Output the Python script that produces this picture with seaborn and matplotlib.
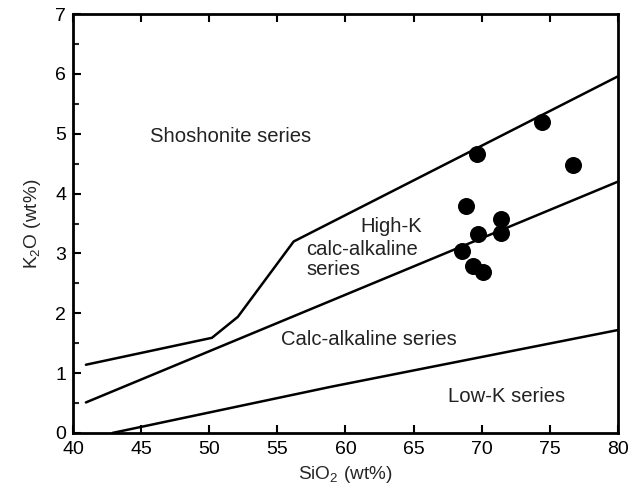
import matplotlib
matplotlib.use("Agg")
import matplotlib.pyplot as plt
from matplotlib.ticker import MultipleLocator
import seaborn as sns
import pandas as pd

# Boundary lines (SiO2, K2O)
shoshonite_x = [40.95, 50.2, 52.1, 56.2, 80.0]
shoshonite_y = [1.14, 1.59, 1.94, 3.20, 5.96]
highk_x = [40.95, 80.0]
highk_y = [0.51, 4.20]
lowk_x = [42.9, 58.9, 80.0]
lowk_y = [0.0, 0.77, 1.72]

# Samples
sio2 = [74.40, 69.67, 76.67, 68.84, 71.41, 71.41, 69.70, 68.53, 69.33, 70.07]
k2o = [5.19, 4.66, 4.47, 3.80, 3.57, 3.34, 3.32, 3.04, 2.79, 2.69]

x_ticks = [40, 45, 50, 55, 60, 65, 70, 75, 80]
y_ticks = [0, 1, 2, 3, 4, 5, 6, 7]

sns.set_style("ticks")
plt.rcParams['font.family'] = ['Liberation Sans', 'DejaVu Sans']
plt.rcParams['mathtext.fontset'] = 'custom'
plt.rcParams['mathtext.rm'] = 'Liberation Sans'

fig = plt.figure(figsize=(6.43, 4.87), dpi=100)
ax = fig.add_axes([0.1135, 0.111, 0.961 - 0.1135, 0.971 - 0.111])

for xs, ys in [(shoshonite_x, shoshonite_y), (highk_x, highk_y), (lowk_x, lowk_y)]:
    sns.lineplot(x=xs, y=ys, ax=ax, color='black', linewidth=1.8, sort=False,
                 estimator=None)

df = pd.DataFrame({'SiO2': sio2, 'K2O': k2o})
sns.scatterplot(data=df, x='SiO2', y='K2O', ax=ax, color='black', s=150,
                edgecolor='black', linewidth=0, zorder=5)

ax.set_xlim(40, 80)
ax.set_ylim(0, 7)
ax.set_xticks(x_ticks)
ax.set_yticks(y_ticks)
ax.yaxis.set_minor_locator(MultipleLocator(0.5))
ax.tick_params(axis='both', which='major', direction='in', length=6, width=1.5,
               labelsize=14, colors='black')
ax.tick_params(axis='x', which='major', top=True, pad=6)
ax.tick_params(axis='y', which='major', pad=5)
ax.tick_params(axis='y', which='minor', direction='in', length=4, width=1.5, left=True)
for sp in ax.spines.values():
    sp.set_linewidth(2.0)
    sp.set_color('black')

ax.set_xlabel('SiO$_2$ (wt%)', fontsize=13.7, labelpad=4)
ax.set_ylabel('K$_2$O (wt%)', fontsize=13.7, labelpad=9)

tc = '#222222'
fs = 14.6
ax.text(45.65, 4.96, 'Shoshonite series', fontsize=fs, ha='left', va='center', color=tc)
ax.text(65.6, 3.45, 'High-K', fontsize=fs, ha='right', va='center', color=tc)
ax.text(57.1, 3.06, 'calc-alkaline', fontsize=fs, ha='left', va='center', color=tc)
ax.text(57.1, 2.74, 'series', fontsize=fs, ha='left', va='center', color=tc)
ax.text(55.27, 1.57, 'Calc-alkaline series', fontsize=fs, ha='left', va='center', color=tc)
ax.text(67.52, 0.61, 'Low-K series', fontsize=fs, ha='left', va='center', color=tc)

fig.savefig('out.png', dpi=100)
